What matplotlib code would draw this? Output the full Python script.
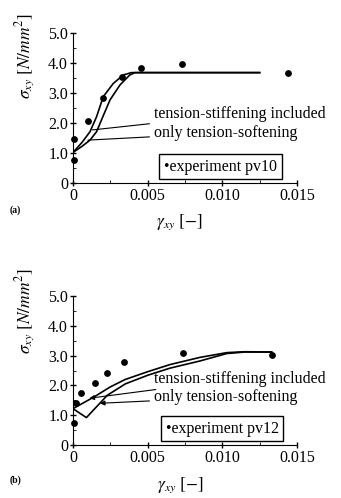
import numpy as np
import matplotlib.pyplot as plt

plt.rcParams['font.family'] = ['Liberation Serif', 'DejaVu Serif']
plt.rcParams['mathtext.fontset'] = 'stix'

# --- data ---
# (a) pv10
exp_a_x = [0.0001, 0.0001, 0.0010, 0.0020, 0.0033, 0.00455, 0.0073, 0.0144]
exp_a_y = [1.47, 0.78, 2.07, 2.82, 3.54, 3.82, 3.98, 3.66]
stiff_a_x = [0.0, 0.0006, 0.00114, 0.00158, 0.00203, 0.0027, 0.00337, 0.0039, 0.0125]
stiff_a_y = [1.02, 1.35, 1.71, 2.21, 2.88, 3.32, 3.60, 3.68, 3.68]
soft_a_x = [0.0, 0.0006, 0.00114, 0.00158, 0.0020, 0.00248, 0.00315, 0.0038, 0.00415, 0.0125]
soft_a_y = [1.02, 1.22, 1.43, 1.71, 2.21, 2.77, 3.27, 3.60, 3.68, 3.68]

# (b) pv12
exp_b_x = [0.0001, 0.0002, 0.00054, 0.0015, 0.0023, 0.0034, 0.0074, 0.0133]
exp_b_y = [0.73, 1.40, 1.73, 2.07, 2.43, 2.77, 3.10, 3.03]
stiff_b_x = [0.0, 0.0014, 0.0025, 0.0035, 0.005, 0.0065, 0.0085, 0.0103, 0.0115, 0.0133]
stiff_b_y = [1.22, 1.61, 1.95, 2.20, 2.46, 2.70, 2.94, 3.10, 3.13, 3.12]
soft_b_x = [0.0, 0.0009, 0.0023, 0.0035, 0.005, 0.0065, 0.0085, 0.0103, 0.0115, 0.0133]
soft_b_y = [1.22, 0.92, 1.67, 2.05, 2.34, 2.58, 2.82, 3.07, 3.12, 3.12]

xticks = [0, 0.005, 0.010, 0.015]
xticklabels = ['0', '0.005', '0.010', '0.015']
yticks = [0, 1, 2, 3, 4, 5]
yticklabels = ['0', '1.0', '2.0', '3.0', '4.0', '5.0']

FS = 11.5

fig = plt.figure(figsize=(3.41, 4.98), dpi=100)
ax_a = fig.add_axes([0.214, 0.6325, 0.657, 0.3012])
ax_b = fig.add_axes([0.214, 0.1064, 0.657, 0.2992])


def setup(ax):
    ax.set_xlim(0, 0.015)
    ax.set_ylim(0, 5.0)
    for s in ['top', 'right']:
        ax.spines[s].set_visible(False)
    ax.set_xticks(xticks)
    ax.set_xticklabels(xticklabels, fontsize=FS)
    ax.set_yticks(yticks)
    ax.set_yticklabels(yticklabels, fontsize=FS)
    ax.tick_params(direction='inout', length=5, width=1, pad=1)
    ax.set_yticks(np.arange(0.5, 5.0, 1.0), minor=True)
    ax.set_xticks(np.arange(0.0025, 0.015, 0.005), minor=True)
    ax.tick_params(which='minor', direction='in', length=2)


# --- (a) ---
setup(ax_a)
ax_a.plot(stiff_a_x, stiff_a_y, color='black', lw=1.2)
ax_a.plot(soft_a_x, soft_a_y, color='black', lw=1.2)
ax_a.scatter(exp_a_x, exp_a_y, s=15, color='black', zorder=3, clip_on=False)
ax_a.annotate('tension-stiffening included', xy=(0.0013, 1.77), xytext=(0.0054, 2.3),
              fontsize=FS, va='center',
              arrowprops=dict(arrowstyle='-', color='black', lw=0.8, shrinkA=1, shrinkB=0))
ax_a.annotate('only tension-softening', xy=(0.001, 1.43), xytext=(0.0054, 1.67),
              fontsize=FS, va='center',
              arrowprops=dict(arrowstyle='-', color='black', lw=0.8, shrinkA=1, shrinkB=0))
ax_a.text(0.0061, 0.55, '\u2022experiment pv10', fontsize=FS, va='center',
          bbox=dict(boxstyle='square,pad=0.3', fc='white', ec='black', lw=1))

# --- (b) ---
setup(ax_b)
ax_b.plot(stiff_b_x, stiff_b_y, color='black', lw=1.2)
ax_b.plot(soft_b_x, soft_b_y, color='black', lw=1.2)
ax_b.scatter(exp_b_x, exp_b_y, s=15, color='black', zorder=3, clip_on=False)
ax_b.annotate('tension-stiffening included', xy=(0.0011, 1.57), xytext=(0.0054, 2.23),
              fontsize=FS, va='center',
              arrowprops=dict(arrowstyle='-|>', mutation_scale=7, color='black', lw=0.8,
                              shrinkA=1, shrinkB=0))
ax_b.annotate('only tension-softening', xy=(0.0018, 1.4), xytext=(0.0054, 1.6),
              fontsize=FS, va='center',
              arrowprops=dict(arrowstyle='-|>', mutation_scale=7, color='black', lw=0.8,
                              shrinkA=1, shrinkB=0))
ax_b.text(0.0062, 0.55, '\u2022experiment pv12', fontsize=FS, va='center',
          bbox=dict(boxstyle='square,pad=0.3', fc='white', ec='black', lw=1))

# --- labels ---
ylab = r'$\sigma_{xy}\ [N/mm^2]$'
fig.text(0.073, 0.888, ylab, rotation=90, fontsize=12.5, ha='center', va='center')
fig.text(0.073, 0.375, ylab, rotation=90, fontsize=12.5, ha='center', va='center')
xlab = r'$\gamma_{xy}\ [-]$'
fig.text(0.525, 0.553, xlab, fontsize=12.5, ha='center', va='center')
fig.text(0.528, 0.006, xlab, fontsize=12.5, ha='center', va='bottom')
fig.text(0.045, 0.578, '(a)', fontsize=7, fontweight='bold', ha='center', va='center')
fig.text(0.045, 0.036, '(b)', fontsize=7, fontweight='bold', ha='center', va='center')

fig.savefig('out.png', dpi=100)
